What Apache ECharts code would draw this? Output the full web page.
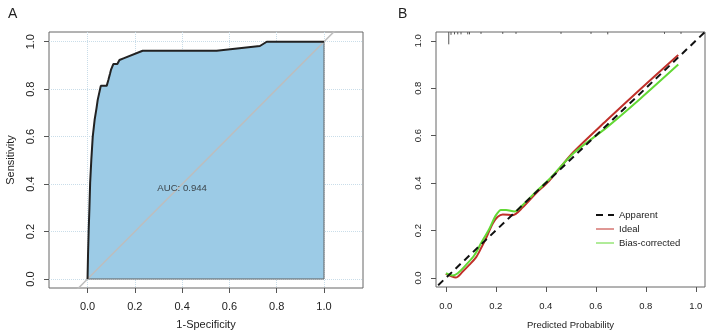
<!DOCTYPE html>
<html lang="en">
<head>
    <meta charset="UTF-8">
    <title>ROC and calibration</title>
    <script src="https://cdn.jsdelivr.net/npm/echarts@6/dist/echarts.min.js"></script>
    <style>
        * { margin: 0; padding: 0; }
        body { background-color: #fff; }
        #box { width: 712px; height: 336px; }
    </style>
</head>
<body>
    <div id="box"></div>
    <script>
        // panel A: ROC curve (1-specificity, sensitivity)
        var rocFpr = [0, 0.002, 0.005, 0.008, 0.011, 0.016, 0.022, 0.03, 0.038, 0.043, 0.046, 0.056, 0.081, 0.088, 0.095, 0.099, 0.105, 0.109, 0.126, 0.135, 0.152, 0.233, 0.546, 0.729, 0.758, 1.0];
        var rocTpr = [0, 0.1, 0.21, 0.3, 0.405, 0.503, 0.6, 0.671, 0.72, 0.755, 0.76, 0.814, 0.814, 0.839, 0.865, 0.881, 0.888, 0.906, 0.906, 0.923, 0.93, 0.962, 0.962, 0.982, 1.0, 1.0];
        var rocEdgeX = [1, 1, 0];
        var rocEdgeY = [1, 0, 0];
        var aucText = 'AUC: 0.944';
        var aucPos = [0.40, 0.38];

        // panel B: calibration curves
        var apparentX = [-0.1, 1.1];
        var apparentY = [-0.1, 1.1];
        var idealX = [0.0, 0.02, 0.04, 0.068, 0.094, 0.121, 0.141, 0.161, 0.188, 0.208, 0.228, 0.268, 0.308, 0.361, 0.414, 0.51, 0.644, 0.777, 0.93];
        var idealY = [0.017, 0.008, 0.002, 0.027, 0.055, 0.087, 0.125, 0.167, 0.23, 0.258, 0.268, 0.265, 0.298, 0.357, 0.41, 0.53, 0.665, 0.795, 0.94];
        var biasX = [0.001, 0.028, 0.048, 0.081, 0.115, 0.141, 0.175, 0.201, 0.221, 0.241, 0.275, 0.308, 0.361, 0.414, 0.51, 0.644, 0.777, 0.93];
        var biasY = [0.02, 0.011, 0.02, 0.055, 0.097, 0.146, 0.209, 0.265, 0.287, 0.287, 0.28, 0.308, 0.364, 0.416, 0.525, 0.635, 0.755, 0.9];
        // rug of predicted probabilities along the top
        var rugX = [0.012, 0.021, 0.035, 0.048, 0.061, 0.088, 0.095, 0.141, 0.228, 0.281, 0.461, 0.581, 0.648, 0.875, 0.941];
        var rugH = [0.052, 0.012, 0.01, 0.01, 0.01, 0.01, 0.01, 0.008, 0.008, 0.008, 0.008, 0.008, 0.01, 0.008, 0.008];

        var ticks = [0, 0.2, 0.4, 0.6, 0.8, 1.0];

        function zip(xs, ys) {
            var out = [];
            for (var i = 0; i < xs.length; i++) out.push([xs[i], ys[i]]);
            return out;
        }

        function makeAxis(grid, min, max, isY, font, margin, name, gap) {
            var ax = {
                type: 'value', gridIndex: grid, min: min, max: max,
                axisLine: { show: false, onZero: false },
                axisTick: { show: true, customValues: ticks, length: 5, lineStyle: { color: '#555' } },
                axisLabel: {
                    customValues: ticks, margin: margin, fontSize: font, color: '#222',
                    fontFamily: 'Liberation Sans',
                    formatter: function (v) { return v.toFixed(1); }
                },
                splitLine: { show: false },
                name: name, nameLocation: 'middle', nameGap: gap,
                nameTextStyle: { fontSize: font, color: '#222', fontFamily: 'Liberation Sans' }
            };
            if (isY) ax.axisLabel.rotate = 90;
            return ax;
        }

        var xA = makeAxis(0, -0.163, 1.165, false, 11, 13, '1-Specificity', 31);
        var yA = makeAxis(0, -0.038, 1.041, true, 11, 13, 'Sensitivity', 33);
        xA.splitLine = { show: true, lineStyle: { color: '#c9dde9', type: 'dotted', width: 1 } };
        yA.splitLine = { show: true, lineStyle: { color: '#c9dde9', type: 'dotted', width: 1 } };
        var xB = makeAxis(1, -0.039, 1.037, false, 9.5, 14, 'Predicted Probability', 33);
        var yB = makeAxis(1, -0.038, 1.037, true, 9.5, 13, '', 30);

        var option = {
            animation: false,
            title: [
                { text: 'A', left: 3, top: 2, textStyle: { fontSize: 14, fontWeight: 'normal', color: '#222', fontFamily: 'Liberation Sans' } },
                { text: 'B', left: 393, top: 2, textStyle: { fontSize: 14, fontWeight: 'normal', color: '#222', fontFamily: 'Liberation Sans' } }
            ],
            grid: [
                { left: 49, top: 32, right: 349, bottom: 48, show: true, borderColor: '#666', borderWidth: 1, backgroundColor: 'transparent' },
                { left: 436, top: 32, right: 7, bottom: 49, show: true, borderColor: '#666', borderWidth: 1, backgroundColor: 'transparent' }
            ],
            legend: {
                data: [
                    { name: 'Apparent' },
                    { name: 'Ideal', lineStyle: { width: 1 } },
                    { name: 'Bias-corrected', lineStyle: { width: 1 } }
                ],
                orient: 'vertical', left: 590, top: 205,
                itemWidth: 18, itemHeight: 10, itemGap: 4,
                itemStyle: { opacity: 0 },
                textStyle: { fontSize: 9.5, color: '#222', fontFamily: 'Liberation Sans' }
            },
            xAxis: [xA, xB],
            yAxis: [yA, yB],
            series: [
                {
                    name: 'roc-fill', type: 'line', xAxisIndex: 0, yAxisIndex: 0,
                    data: zip(rocFpr, rocTpr), showSymbol: false, symbol: 'none',
                    lineStyle: { width: 0, opacity: 0 },
                    areaStyle: { color: '#9ccbe6', opacity: 1 }, z: 1
                },
                {
                    name: 'roc-edge', type: 'line', xAxisIndex: 0, yAxisIndex: 0,
                    data: zip(rocEdgeX, rocEdgeY), symbol: 'none',
                    lineStyle: { color: '#666', width: 1 }, z: 2
                },
                {
                    name: 'diag', type: 'line', xAxisIndex: 0, yAxisIndex: 0,
                    data: zip([-0.3, 1.3], [-0.3, 1.3]), symbol: 'none',
                    lineStyle: { color: '#bdbdbd', width: 1.5 }, z: 3
                },
                {
                    name: 'roc', type: 'line', xAxisIndex: 0, yAxisIndex: 0,
                    data: zip(rocFpr, rocTpr), symbol: 'none',
                    lineStyle: { color: '#222', width: 2 }, z: 4
                },
                {
                    name: 'auc', type: 'scatter', xAxisIndex: 0, yAxisIndex: 0,
                    data: [aucPos], symbolSize: 1, itemStyle: { color: 'transparent' },
                    label: { show: true, position: 'inside', formatter: aucText, fontSize: 9.6, color: '#222', fontFamily: 'Liberation Sans' },
                    z: 5
                },
                {
                    name: 'Apparent', type: 'line', xAxisIndex: 1, yAxisIndex: 1,
                    data: zip(apparentX, apparentY), symbol: 'none',
                    lineStyle: { color: '#111', width: 2, type: [7, 5] }, itemStyle: { color: '#111' }, z: 5
                },
                {
                    name: 'Ideal', type: 'line', xAxisIndex: 1, yAxisIndex: 1,
                    data: zip(idealX, idealY), symbol: 'none', smooth: 0.3,
                    lineStyle: { color: '#c0302a', width: 2 }, itemStyle: { color: '#c0302a' }, z: 4
                },
                {
                    name: 'Bias-corrected', type: 'line', xAxisIndex: 1, yAxisIndex: 1,
                    data: zip(biasX, biasY), symbol: 'none', smooth: 0.3,
                    lineStyle: { color: '#62d834', width: 2 }, itemStyle: { color: '#62d834' }, z: 4
                },
                {
                    name: 'rug', type: 'custom', xAxisIndex: 1, yAxisIndex: 1,
                    data: zip(rugX, rugH),
                    renderItem: function (params, api) {
                        var top = 1.037;
                        var p0 = api.coord([api.value(0), top]);
                        var p1 = api.coord([api.value(0), top - api.value(1)]);
                        return {
                            type: 'line',
                            shape: { x1: p0[0], y1: p0[1], x2: p1[0], y2: p1[1] },
                            style: { stroke: '#555', lineWidth: 1 }
                        };
                    },
                    z: 5
                }
            ]
        };
        echarts.init(document.getElementById('box')).setOption(option);
    </script>
</body>
</html>
